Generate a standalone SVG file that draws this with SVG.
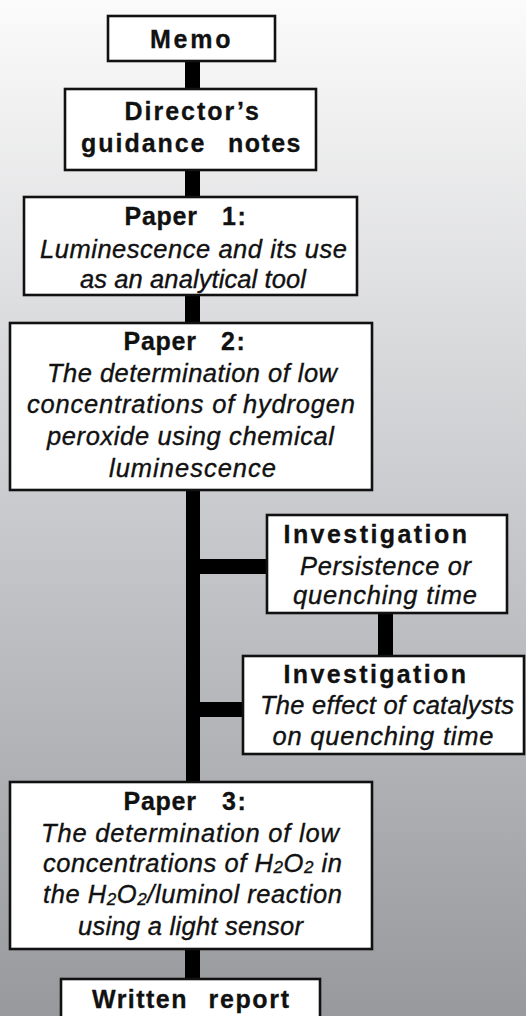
<svg xmlns="http://www.w3.org/2000/svg" width="526" height="1016" viewBox="0 0 526 1016">
<defs>
<linearGradient id="bg" x1="0" y1="0" x2="0" y2="1">
<stop offset="0" stop-color="#fbfbfb"/>
<stop offset="0.5" stop-color="#c9cacd"/>
<stop offset="1" stop-color="#98999d"/>
</linearGradient>
<style>
.box { fill:#ffffff; stroke:#111111; stroke-width:2.6; }
.con { fill:#000000; }
.b { font-family:"Liberation Sans", Arial, sans-serif; font-weight:bold; font-size:25px; letter-spacing:1.5px; fill:#111111; stroke:#111111; stroke-width:0.3px; }
.i { font-family:"Liberation Sans", Arial, sans-serif; font-style:italic; font-size:25.5px; fill:#111111; stroke:#111111; stroke-width:0.35px; }
.sub { font-size:17px; }
</style>
</defs>
<rect x="0" y="0" width="526" height="1016" fill="url(#bg)"/>

<g id="connectors">
<rect class="con" x="185" y="61" width="15" height="28"/>
<rect class="con" x="185" y="170" width="15" height="27"/>
<rect class="con" x="185" y="295" width="15" height="28"/>
<rect class="con" x="186" y="490" width="14" height="292"/>
<rect class="con" x="200" y="559" width="67" height="15"/>
<rect class="con" x="200" y="702" width="43" height="15"/>
<rect class="con" x="378" y="613" width="15" height="43"/>
<rect class="con" x="185" y="949" width="15" height="30"/>
</g>

<g id="memo">
<rect class="box" x="108" y="16" width="167" height="45"/>
<text class="b" x="150" y="47.7" textLength="82">Memo</text>
</g>

<g id="director">
<rect class="box" x="65" y="89" width="251" height="81"/>
<text class="b" x="124.5" y="120" textLength="136">Director’s</text>
<text class="b" y="151.7"><tspan x="81" textLength="125">guidance</tspan><tspan x="228" textLength="74">notes</tspan></text>
</g>

<g id="paper1">
<rect class="box" x="24" y="197" width="333" height="98"/>
<text class="b" y="225"><tspan x="124.5" textLength="74">Paper</tspan><tspan x="222">1:</tspan></text>
<text class="i" x="40" y="258.3" textLength="307">Luminescence and its use</text>
<text class="i" x="80" y="288.3" textLength="226">as an analytical tool</text>
</g>

<g id="paper2">
<rect class="box" x="10" y="323" width="362" height="167"/>
<text class="b" y="350"><tspan x="123.5" textLength="74">Paper</tspan><tspan x="221">2:</tspan></text>
<text class="i" x="47" y="382" textLength="290">The determination of low</text>
<text class="i" x="27" y="413" textLength="328">concentrations of hydrogen</text>
<text class="i" x="47" y="445" textLength="287">peroxide using chemical</text>
<text class="i" x="109" y="477" textLength="167">luminescence</text>
</g>

<g id="investigation1">
<rect class="box" x="267" y="515" width="240" height="98"/>
<text class="b" x="283.5" y="542.7" textLength="185">Investigation</text>
<text class="i" x="300" y="575" textLength="171">Persistence or</text>
<text class="i" x="293" y="604" textLength="184">quenching time</text>
</g>

<g id="investigation2">
<rect class="box" x="243" y="656" width="281" height="98"/>
<text class="b" x="283.5" y="682.7" textLength="184">Investigation</text>
<text class="i" x="260" y="714.3" textLength="254">The effect of catalysts</text>
<text class="i" x="272.5" y="745" textLength="221">on quenching time</text>
</g>

<g id="paper3">
<rect class="box" x="10" y="782" width="362" height="167"/>
<text class="b" y="810"><tspan x="123.5" textLength="74">Paper</tspan><tspan x="222">3:</tspan></text>
<text class="i" x="41" y="841.7" textLength="298">The determination of low</text>
<text class="i" x="43" y="871.7" textLength="299">concentrations of H<tspan class="sub" dy="1.5">2</tspan><tspan dy="-1.5">O</tspan><tspan class="sub" dy="1.5">2</tspan><tspan dy="-1.5"> in</tspan></text>
<text class="i" x="43" y="903.3" textLength="299">the H<tspan class="sub" dy="1.5">2</tspan><tspan dy="-1.5">O</tspan><tspan class="sub" dy="1.5">2</tspan><tspan dy="-1.5">/luminol reaction</tspan></text>
<text class="i" x="78" y="935" textLength="225">using a light sensor</text>
</g>

<g id="written-report">
<rect class="box" x="61" y="979" width="259" height="60"/>
<text class="b" y="1008"><tspan x="92" textLength="96">Written</tspan><tspan x="208.5" textLength="82">report</tspan></text>
</g>
</svg>
